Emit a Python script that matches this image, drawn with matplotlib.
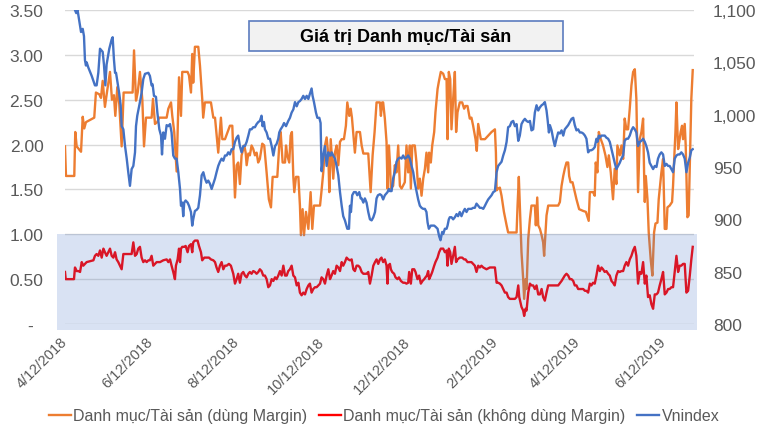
import matplotlib
matplotlib.use('Agg')
import matplotlib.pyplot as plt
import matplotlib.dates as mdates
import matplotlib.transforms as mtransforms
from matplotlib.patches import Rectangle
from matplotlib.lines import Line2D
import numpy as np

plt.rcParams['font.family'] = ['Liberation Sans', 'DejaVu Sans']

# ---------------- data ----------------
start_date = '2018-04-12'   # day 0

# Danh mục/Tài sản (dùng Margin) - left axis
orange_days = [0, 0.7, 6.6, 7.3, 8.3, 11.4, 12.6, 13.7, 14.9, 20.8, 22.0, 24.4, 25.6, 26.8, 28.4, 30.0,
               32.0, 33.4, 34.8, 35.8, 37.2, 38.6, 40.3, 41.7, 48.1, 49.1, 50.5, 51.7, 53.3, 55.0, 56.2,
               57.6, 61.6, 62.6, 64.0, 65.6, 67.0, 72.3, 73.5, 75.4, 76.3, 77.7, 79.4, 81.1, 82.5, 83.4,
               87.2, 88.2, 89.6, 90.5, 91.2, 92.4, 94.8, 96.0, 97.6, 98.3, 99.5, 103.8, 105.5, 106.7,
               109.0, 110.9, 111.9, 113.8, 115.7, 117.3, 119.0, 119.7, 120.9, 122.1, 123.2, 124.4, 125.6,
               127.5, 128.5, 129.2, 130.4, 131.5, 132.7, 133.9, 135.1, 136.3, 137.4, 138.6, 140.3, 141.7,
               143.4, 145.0, 146.5, 147.7, 151.0, 152.4, 153.4, 154.8, 156.5, 157.2, 158.1, 159.5, 160.5,
               161.4, 162.4, 163.1, 164.3, 166.0, 167.1, 167.8, 169.0, 170.0, 171.4, 173.1, 174.7, 175.9,
               177.1, 181.4, 182.5, 183.7, 184.9, 186.1, 187.3, 188.0, 189.0, 190.8, 192.0, 193.2, 194.4,
               195.6, 196.8, 198.4, 199.8, 200.8, 202.2, 203.2, 204.1, 206.2, 207.4, 209.8, 211.0, 212.2,
               215.7, 217.4, 218.8, 220.2, 221.6, 224.0, 224.7, 225.6, 226.3, 227.5, 228.7, 229.4, 230.4,
               231.1, 231.8, 233.4, 234.6, 235.8, 237.0, 238.2, 239.4, 241.7, 242.9, 244.1, 245.3, 246.0,
               247.0, 248.8, 250.0, 251.2, 252.4, 253.6, 254.8, 256.0, 257.1, 258.3, 259.0, 260.2, 261.2,
               262.6, 263.5, 265.0, 265.9, 267.3, 269.0, 270.2, 271.4, 272.1, 273.0, 274.0, 274.9, 276.1,
               277.3, 278.2, 279.2, 280.8, 282.5, 283.9, 284.9, 286.3, 287.9, 289.1, 290.3, 292.0, 292.9,
               293.9, 295.8, 298.7, 301.0, 303.4, 305.8, 306.5, 307.0, 308.1, 309.3, 310.5, 312.2, 314.1,
               315.2, 321.2, 321.9, 322.8, 323.5, 324.7, 325.9, 326.6, 327.6, 328.3, 329.5, 330.7, 331.8,
               334.2, 334.9, 335.9, 336.6, 337.8, 339.0, 340.1, 340.8, 341.8, 342.5, 343.7, 350.8, 352.0,
               353.2, 354.4, 355.5, 356.7, 357.9, 358.6, 359.6, 361.0, 362.6, 363.8, 365.7, 368.6, 370.5,
               372.5, 373.3, 375.6, 376.8, 377.5, 378.7, 379.7, 381.1, 382.7, 384.4, 385.8, 386.8, 388.2,
               389.8, 391.0, 392.2, 392.9, 394.6, 395.8, 397.0, 398.1, 399.3, 400.5, 401.7, 402.9, 404.1,
               405.3, 406.4, 407.6, 408.8, 410.0, 411.2, 411.9, 412.4, 413.1, 414.3, 415.2, 416.6, 417.8,
               419.0, 420.0, 421.4, 422.3, 424.2, 425.4, 426.6, 427.8, 428.5, 430.1, 431.8, 432.5, 433.2,
               434.2, 434.9, 436.1, 437.2, 437.9, 438.9, 439.6, 440.8, 441.5, 442.7, 443.6, 444.4, 445.5,
               446.5]
orange_vals = [1.98, 1.65, 1.65, 2.14, 1.98, 1.92, 2.31, 2.18, 2.25, 2.30, 2.58, 2.56, 2.52, 2.71, 2.42, 2.60,
               2.81, 2.50, 2.55, 2.32, 2.64, 2.45, 1.98, 2.58, 2.58, 3.05, 2.49, 2.58, 2.81, 2.50, 1.98,
               2.30, 2.30, 2.51, 2.23, 2.25, 2.30, 2.30, 2.40, 2.47, 2.32, 2.14, 1.70, 2.75, 2.32, 2.81,
               2.81, 2.77, 2.58, 3.01, 2.69, 3.09, 3.09, 2.88, 2.51, 2.30, 2.47, 2.47, 2.30, 2.30,
               1.91, 2.30, 2.06, 2.06, 2.14, 2.21, 2.21, 1.91, 1.41, 1.77, 1.80, 1.56, 1.88,
               1.99, 1.91, 1.77, 1.90, 1.88, 1.99, 1.95, 1.88, 1.91, 1.80, 1.84, 2.01, 1.99,
               1.69, 1.39, 1.30, 1.64, 1.64, 1.99, 2.14, 1.80, 1.80, 1.99, 1.88, 1.80, 2.10,
               2.14, 1.64, 1.47, 1.64, 1.64, 1.32, 0.99, 1.28, 0.99, 1.25, 1.06, 1.47, 1.06,
               1.32, 1.32, 1.49, 1.69, 1.99, 2.08, 1.88, 1.47, 2.06, 1.62, 1.91, 1.99, 1.77,
               2.03, 2.06, 2.06, 2.21, 2.47, 2.32, 2.40, 2.30, 1.91, 2.14, 2.14, 1.99, 1.90,
               1.90, 1.47, 1.88, 2.14, 2.47, 2.47, 2.32, 2.47, 2.47, 2.29, 2.03, 1.51, 1.99,
               1.80, 1.51, 1.54, 1.77, 1.69, 1.99, 1.54, 1.51, 1.58, 1.99, 1.69, 1.99, 1.51,
               1.99, 1.99, 1.80, 1.51, 1.62, 1.43, 1.62, 1.73, 1.91, 1.69, 1.91, 1.80, 1.99,
               2.14, 2.36, 2.62, 2.70, 2.81, 2.79, 2.73, 2.73, 2.06, 2.81, 2.73, 2.17, 2.51,
               2.81, 2.14, 2.36, 2.47, 2.47, 2.40, 2.43, 2.43, 2.29, 2.30, 2.21, 2.06, 1.93,
               2.23, 2.06, 2.06, 2.10, 2.14, 2.17, 1.91, 1.49, 1.51, 1.52, 1.43, 1.25, 1.10,
               1.02, 1.02, 1.32, 1.64, 1.32, 0.80, 0.50, 0.28, 0.50, 0.39, 0.95, 1.17, 1.32,
               1.32, 1.10, 1.41, 1.10, 1.06, 0.99, 0.91, 0.76, 1.02, 1.21, 1.32, 1.32, 1.36,
               1.54, 1.65, 1.73, 1.80, 1.80, 1.65, 1.58, 1.58, 1.47, 1.39, 1.28, 1.26, 1.25,
               1.15, 1.47, 1.47, 1.43, 1.80, 1.69, 2.14, 2.06, 1.99, 1.88, 1.75, 1.88, 1.69,
               1.39, 1.73, 1.56, 1.99, 1.88, 1.99, 1.84, 2.29, 2.17, 2.17, 2.40, 2.66, 2.81,
               2.84, 2.51, 1.47, 2.06, 2.14, 2.29, 1.69, 1.36, 1.65, 1.39, 1.02, 0.72, 0.54,
               1.02, 1.12, 1.13, 1.39, 1.69, 1.84, 1.06, 1.06, 1.30, 1.32, 1.36, 1.54, 1.80,
               2.14, 2.47, 1.95, 2.06, 2.14, 2.21, 2.06, 2.23, 1.99, 1.19, 1.21, 1.77, 2.51,
               2.83]

# Danh mục/Tài sản (không dùng Margin) - left axis
red_days = [0, 0.5, 6.4, 7.1, 8.3, 9.5, 10.7, 11.9, 13.0, 14.2, 15.4, 20.2, 21.3, 22.5, 23.7, 24.9, 26.1,
            27.3, 28.4, 29.6, 30.8, 32.0, 33.2, 34.4, 35.6, 36.7, 37.9, 39.1, 40.3, 41.5, 43.9, 47.4, 48.6,
            49.8, 51.0, 52.1, 53.3, 54.5, 55.7, 56.9, 58.1, 59.3, 60.4, 61.6, 62.8, 64.0, 65.2, 67.6, 69.9,
            72.3, 73.5, 74.7, 75.8, 77.0, 78.2, 78.9, 80.1, 81.1, 81.8, 82.5, 83.4, 84.8, 85.8, 87.2, 88.2,
            89.6, 90.5, 91.2, 92.4, 94.3, 95.3, 96.7, 97.6, 99.1, 100.7, 102.4, 103.8, 105.5, 106.7, 107.8,
            109.0, 110.2, 111.4, 112.6, 113.8, 115.0, 116.6, 118.0, 119.7, 120.9, 122.1, 123.2, 124.4,
            125.6, 126.8, 128.0, 129.2, 130.4, 131.5, 132.7, 133.9, 135.1, 136.3, 137.5, 138.6, 139.8,
            141.0, 142.2, 143.4, 144.6, 145.8, 147.0, 148.2, 149.4, 150.5, 151.7, 152.9, 154.1, 155.3,
            156.5, 157.7, 158.8, 160.0, 161.2, 162.4, 163.6, 164.8, 166.0, 167.1, 168.3, 169.5, 170.7,
            171.9, 173.1, 174.2, 175.4, 176.6, 177.8, 179.0, 180.2, 181.4, 182.5, 183.7, 184.9, 186.1,
            187.3, 188.5, 189.6, 190.8, 192.0, 193.2, 194.4, 195.6, 196.8, 197.9, 199.1, 200.3, 201.5,
            202.7, 203.9, 205.1, 206.2, 207.4, 208.6, 209.8, 211.0, 212.2, 214.5, 215.7, 216.9, 218.1,
            219.3, 220.5, 221.6, 222.8, 224.0, 225.1, 226.3, 227.5, 228.7, 229.4, 229.9, 231.1, 231.8,
            232.7, 234.1, 235.1, 236.5, 237.5, 238.9, 240.5, 241.7, 242.9, 244.1, 244.8, 246.0, 247.0,
            248.4, 249.3, 250.7, 251.9, 253.1, 254.3, 255.5, 256.4, 257.4, 258.3, 259.0, 260.2, 261.2,
            262.6, 263.5, 265.0, 266.1, 267.3, 269.0, 270.2, 271.4, 272.1, 273.0, 274.0, 274.9, 276.1,
            277.3, 278.2, 279.2, 280.8, 282.5, 283.9, 284.9, 286.3, 287.9, 289.1, 290.3, 291.5, 292.7,
            293.9, 295.1, 296.2, 297.5, 299.8, 302.2, 304.6, 305.8, 307.0, 308.1, 309.3, 310.5, 311.7,
            312.9, 314.1, 315.2, 316.4, 318.8, 320.0, 321.2, 322.4, 323.1, 324.0, 324.7, 325.9, 326.6,
            327.6, 328.3, 329.5, 330.7, 331.8, 333.0, 334.2, 335.4, 336.6, 337.8, 339.0, 340.1, 341.3,
            342.5, 343.7, 346.1, 348.4, 350.8, 353.2, 355.5, 356.7, 357.9, 359.1, 360.3, 361.5, 362.6,
            363.8, 365.0, 367.4, 368.6, 369.8, 370.9, 372.1, 373.3, 374.4, 375.6, 376.8, 378.0, 379.2,
            380.4, 381.6, 382.7, 383.9, 385.1, 386.3, 387.5, 388.7, 389.8, 391.0, 392.2, 393.4, 394.6,
            395.8, 397.0, 398.1, 399.3, 400.5, 401.7, 402.9, 404.1, 405.3, 406.4, 407.6, 408.8, 410.0,
            411.2, 412.4, 413.5, 414.7, 415.9, 417.1, 418.3, 419.5, 420.7, 421.8, 423.0, 424.2, 425.4,
            426.6, 427.8, 429.0, 430.1, 431.3, 432.5, 433.7, 434.9, 436.1, 437.2, 438.4, 439.6, 440.8,
            442.0, 443.2, 444.4, 445.5, 446.5]
red_vals = [0.58, 0.50, 0.50, 0.63, 0.59, 0.59, 0.58, 0.69, 0.65, 0.67, 0.69, 0.71, 0.76, 0.78, 0.76, 0.82, 0.74,
            0.84, 0.80, 0.76, 0.80, 0.84, 0.76, 0.74, 0.80, 0.72, 0.69, 0.65, 0.61, 0.78, 0.78, 0.78, 0.91,
            0.76, 0.78, 0.84, 0.86, 0.74, 0.69, 0.71, 0.69, 0.71, 0.71, 0.76, 0.65, 0.67, 0.69, 0.69, 0.71,
            0.72, 0.69, 0.72, 0.65, 0.58, 0.50, 0.65, 0.72, 0.84, 0.69, 0.84, 0.86, 0.86, 0.87, 0.80, 0.87,
            0.89, 0.80, 0.91, 0.93, 0.93, 0.87, 0.80, 0.71, 0.74, 0.74, 0.74, 0.72, 0.71, 0.69, 0.63,
            0.58, 0.65, 0.69, 0.61, 0.65, 0.65, 0.67, 0.65, 0.56, 0.45, 0.50, 0.56, 0.46,
            0.56, 0.58, 0.54, 0.52, 0.56, 0.58, 0.56, 0.59, 0.58, 0.56, 0.58, 0.61, 0.59,
            0.54, 0.54, 0.50, 0.41, 0.43, 0.50, 0.48, 0.52, 0.50, 0.54, 0.59, 0.54, 0.65,
            0.54, 0.54, 0.59, 0.61, 0.65, 0.54, 0.52, 0.43, 0.46, 0.35, 0.32, 0.35, 0.33,
            0.39, 0.43, 0.45, 0.35, 0.39, 0.41, 0.41, 0.43, 0.45, 0.52, 0.50, 0.45, 0.54,
            0.61, 0.50, 0.54, 0.59, 0.56, 0.65, 0.63, 0.59, 0.69, 0.65, 0.69, 0.74, 0.72,
            0.71, 0.72, 0.61, 0.59, 0.65, 0.65, 0.63, 0.58, 0.56, 0.56, 0.58, 0.45, 0.54,
            0.65, 0.69, 0.72, 0.67, 0.72, 0.74, 0.69, 0.72, 0.65, 0.45, 0.65, 0.67, 0.61,
            0.58, 0.56, 0.52, 0.50, 0.52, 0.48, 0.46, 0.46, 0.45, 0.46, 0.58, 0.45, 0.61,
            0.61, 0.58, 0.50, 0.54, 0.45, 0.48, 0.50, 0.52, 0.54, 0.59, 0.50, 0.54, 0.58,
            0.65, 0.69, 0.74, 0.80, 0.84, 0.84, 0.80, 0.82, 0.65, 0.84, 0.80, 0.67, 0.76,
            0.86, 0.69, 0.72, 0.74, 0.74, 0.72, 0.72, 0.69, 0.69, 0.69, 0.67, 0.65, 0.58,
            0.65, 0.63, 0.65, 0.63, 0.61, 0.63, 0.63, 0.63, 0.46, 0.46, 0.45, 0.43, 0.39,
            0.35, 0.35, 0.30, 0.28, 0.28, 0.28, 0.30, 0.43, 0.30, 0.24, 0.19, 0.15, 0.09,
            0.17, 0.15, 0.35, 0.45, 0.43, 0.43, 0.39, 0.43, 0.33, 0.33, 0.39, 0.30, 0.26,
            0.35, 0.43, 0.43, 0.43, 0.43, 0.48, 0.54, 0.56, 0.54, 0.50, 0.50, 0.48, 0.43,
            0.43, 0.39, 0.39, 0.39, 0.37, 0.37, 0.35, 0.45, 0.43, 0.46, 0.45, 0.54, 0.65,
            0.59, 0.63, 0.61, 0.58, 0.59, 0.56, 0.54, 0.48, 0.46, 0.43, 0.54, 0.59, 0.58,
            0.59, 0.59, 0.65, 0.69, 0.65, 0.72, 0.76, 0.82, 0.86, 0.76, 0.45, 0.58, 0.56,
            0.69, 0.45, 0.54, 0.30, 0.32, 0.22, 0.17, 0.33, 0.33, 0.35, 0.43, 0.50, 0.58,
            0.33, 0.35, 0.39, 0.39, 0.41, 0.41, 0.58, 0.76, 0.58, 0.65, 0.65, 0.67, 0.67,
            0.35, 0.37, 0.54, 0.72, 0.86]

# Vnindex - right axis
blue_days = [0, 3, 5, 7.1, 8.0, 8.8, 9.5, 10.7, 11.4, 12.1, 12.6, 13.5, 14.2, 14.9, 15.4, 16.6, 19.0, 21.3,
             22.5, 23.7, 24.9, 26.8, 27.7, 28.7, 29.6, 31.5, 33.2, 33.9, 34.8, 35.6, 36.3, 37.2, 38.6, 39.6,
             40.3, 41.5, 42.7, 43.9, 45.0, 46.2, 47.4, 48.6, 49.8, 50.5, 51.4, 53.3, 54.5, 55.7, 56.9, 59.3,
             60.4, 61.6, 62.3, 63.3, 64.7, 65.7, 67.1, 68.3, 69.0, 69.9, 71.1, 72.3, 73.5, 74.7, 75.8, 77.0,
             78.2, 79.4, 80.6, 81.8, 82.5, 83.4, 84.1, 84.8, 85.8, 87.2, 88.2, 89.6, 90.5, 91.2, 92.4, 93.6,
             94.8, 96.0, 97.2, 98.4, 99.5, 100.7, 101.9, 103.1, 104.3, 105.5, 106.7, 107.8, 109.0, 110.2,
             111.4, 112.6, 113.8, 115.0, 116.1, 117.3, 118.5, 119.7, 120.9, 122.1, 123.2, 124.4, 125.6,
             126.8, 128.0, 129.2, 130.4, 131.5, 132.7, 133.9, 135.1, 136.3, 137.5, 138.6, 139.8, 140.5,
             141.5, 142.2, 143.4, 144.6, 145.8, 147.0, 148.2, 149.4, 150.5, 151.7, 152.4, 153.4, 154.8,
             155.8, 157.2, 158.8, 160.0, 161.2, 162.4, 163.6, 164.8, 166.0, 167.1, 168.3, 169.5, 170.7,
             171.9, 173.1, 174.2, 175.4, 176.1, 177.1, 178.5, 179.5, 180.9, 181.8, 182.5, 183.7, 184.9,
             186.1, 187.3, 188.0, 189.0, 189.6, 190.8, 192.0, 193.2, 194.4, 195.6, 196.8, 197.9, 199.1,
             200.8, 202.0, 202.7, 203.4, 204.3, 205.5, 206.9, 207.9, 209.3, 210.3, 211.0, 212.2, 213.3,
             214.5, 215.7, 216.9, 218.1, 219.3, 220.5, 221.6, 222.6, 224.0, 225.1, 226.3, 227.5, 229.4,
             230.4, 231.1, 232.3, 233.4, 234.6, 235.8, 237.0, 238.2, 239.4, 240.5, 241.7, 242.9, 244.1,
             245.3, 246.5, 247.7, 248.8, 250.0, 251.2, 252.4, 253.6, 254.8, 256.0, 257.1, 257.9, 258.8,
             260.2, 261.2, 262.6, 263.5, 265.0, 266.1, 267.1, 268.3, 269.0, 270.2, 271.4, 272.1, 273.0,
             273.7, 274.9, 276.1, 277.3, 278.5, 279.6, 280.8, 282.0, 283.2, 284.4, 285.6, 286.8, 287.9,
             289.1, 290.3, 291.5, 292.7, 293.9, 295.1, 296.3, 297.5, 298.7, 299.8, 301.0, 302.2, 303.4,
             304.6, 305.8, 307.0, 308.1, 309.3, 310.5, 311.7, 312.9, 314.1, 315.2, 316.4, 317.6, 318.8,
             320.0, 321.2, 322.4, 323.5, 324.7, 325.9, 327.1, 328.3, 329.5, 330.7, 331.8, 333.0, 334.2,
             335.4, 336.6, 337.8, 339.0, 340.1, 341.3, 342.5, 343.2, 344.2, 344.9, 346.1, 347.2, 348.4,
             349.6, 350.8, 352.0, 353.2, 354.4, 355.5, 356.7, 357.9, 359.1, 360.3, 361.5, 362.6, 363.8,
             365.0, 366.2, 367.4, 368.6, 369.8, 370.9, 372.1, 373.3, 374.4, 375.6, 376.8, 378.0, 378.7,
             379.7, 380.4, 381.6, 382.7, 383.9, 385.1, 386.3, 387.5, 388.7, 389.8, 391.0, 392.2, 393.4,
             394.6, 395.8, 397.0, 398.1, 399.3, 400.5, 401.7, 402.9, 404.1, 405.3, 406.4, 407.6, 408.8,
             410.0, 411.2, 412.4, 413.5, 414.7, 415.9, 417.1, 418.3, 419.5, 420.7, 421.8, 423.0, 424.2,
             425.4, 426.6, 427.8, 429.0, 430.1, 431.3, 432.5, 433.7, 434.9, 436.1, 437.2, 438.4, 439.6,
             440.8, 442.0, 443.2, 444.4, 445.5, 446.5]
blue_vals = [1160, 1140, 1125, 1100, 1097, 1101, 1095, 1085, 1079, 1080, 1082, 1075, 1052, 1047, 1050, 1045, 1037, 1028,
             1028, 1040, 1063, 1060, 1048, 1028, 1048, 1063, 1072, 1074, 1053, 1040, 1040, 1032, 1020, 1009,
             989, 986, 970, 958, 945, 932, 948, 951, 964, 989, 999, 1012, 1021, 1034, 1039, 1040,
             1037, 1028, 1029, 1018, 1017, 1002, 986, 980, 962, 983, 977, 990, 989, 991, 983, 961,
             958, 958, 945, 929, 913, 916, 903, 916, 918, 916, 913, 907, 894, 900, 908, 909,
             911, 923, 942, 945, 939, 935, 937, 934, 929, 934, 939, 945, 951, 955,
             958, 956, 961, 961, 964, 962, 967, 967, 974, 978, 980, 970, 964,
             970, 970, 974, 980, 986, 986, 988, 988, 991, 993, 994, 999, 989,
             993, 986, 983, 977, 977, 970, 961, 970, 972, 977, 983, 986, 989,
             992, 989, 994, 997, 1002, 1005, 1012, 1008, 1012, 1013, 1015, 1018, 1015,
             1018, 1015, 1020, 1025, 1018, 1012, 1002, 997, 997, 992, 946, 961, 970,
             951, 964, 961, 961, 964, 961, 958, 951, 942, 926, 913, 903, 899,
             891, 891, 913, 907, 923, 926, 926, 923, 926, 920, 920, 916, 920,
             916, 907, 900, 899, 902, 907, 920, 923, 924, 923, 919, 923, 926,
             929, 927, 927, 939, 945, 955, 958, 959, 958, 961, 958, 959, 961,
             958, 951, 945, 935, 927, 919, 913, 911, 910, 910, 907, 897, 891,
             894, 894, 894, 893, 891, 884, 880, 888, 886, 891, 891, 894, 900,
             902, 902, 900, 902, 905, 903, 907, 903, 907, 910, 907, 910, 910,
             910, 911, 911, 915, 913, 911, 911, 910, 913, 916, 919, 921, 923,
             926, 927, 945, 951, 953, 955, 961, 966, 974, 988, 989, 993, 994,
             989, 991, 975, 980, 991, 994, 996, 994, 993, 994, 985, 986, 1002,
             1009, 1004, 1007, 1009, 1010, 1012, 1004, 996, 983, 990, 985, 977, 970,
             977, 983, 982, 985, 980, 986, 988, 990, 993, 996, 997, 990, 985,
             986, 983, 983, 982, 980, 977, 964, 966, 966, 967, 969, 977, 974,
             980, 978, 980, 980, 980, 978, 977, 974, 967, 961, 954, 948, 951,
             954, 958, 961, 975, 977, 977, 980, 985, 988, 986, 983, 970, 974,
             975, 977, 974, 970, 964, 954, 951, 948, 951, 950, 958, 962, 964,
             962, 951, 953, 951, 951, 948, 945, 958, 961, 962, 962, 964, 962,
             958, 945, 954, 959, 966, 967]

left_ticks = [0, 0.5, 1.0, 1.5, 2.0, 2.5, 3.0, 3.5]
left_labels = ['-  ', '0.50', '1.00', '1.50', '2.00', '2.50', '3.00', '3.50']
right_ticks = [800, 850, 900, 950, 1000, 1050, 1100]
right_labels = ['800', '850', '900', '950', '1,000', '1,050', '1,100']
date_ticks = ['2018-04-12', '2018-06-12', '2018-08-12', '2018-10-12', '2018-12-12',
              '2019-02-12', '2019-04-12', '2019-06-12']
date_labels = ['4/12/2018', '6/12/2018', '8/12/2018', '10/12/2018', '12/12/2018',
               '2/12/2019', '4/12/2019', '6/12/2019']
series_names = ['Danh mục/Tài sản (dùng Margin)', 'Danh mục/Tài sản (không dùng Margin)', 'Vnindex']
title_text = 'Giá trị Danh mục/Tài sản'

# ---------------- style ----------------
C_ORANGE = '#ed7d31'
C_RED = '#ff0000'
C_BLUE = '#4472c4'
C_TXT = '#595959'
LW = 1.7

fig = plt.figure(figsize=(7.68, 4.31), dpi=100)
W, H = 768.0, 431.0
ax = fig.add_axes([65 / W, 1 - 325 / H, 629 / W, 314 / H])
ax2 = ax.twinx()

t0 = mdates.datestr2num(start_date)
ox = t0 + np.array(orange_days)
rx = t0 + np.array(red_days)
bx = t0 + np.array(blue_days)

ax.plot(ox, orange_vals, color=C_ORANGE, lw=LW, zorder=2, solid_joinstyle='round')
ax.plot(rx, red_vals, color=C_RED, lw=LW, zorder=2, solid_joinstyle='round')
ax2.plot(bx, blue_vals, color=C_BLUE, lw=LW, zorder=2, solid_joinstyle='round')

ax.set_xlim(t0, t0 + 447.4)
ax.set_ylim(0, 3.5)
ax2.set_ylim(800, 1100)

ax.set_yticks(left_ticks)
ax.set_yticklabels(left_labels)
ax2.set_yticks(right_ticks)
ax2.set_yticklabels(right_labels)

ax.set_axisbelow(True)
ax.grid(axis='y', color='#d9d9d9', lw=1.0)
ax.grid(axis='x', visible=False)

tick_nums = [mdates.datestr2num(d) for d in date_ticks]
ax.set_xticks(tick_nums)
ax.set_xticklabels(date_labels, rotation=45, ha='right', va='center', rotation_mode='anchor')

ax.tick_params(axis='y', length=0, pad=15.5, labelsize=12.5, labelcolor=C_TXT)
ax2.tick_params(axis='y', length=0, pad=13.5, labelsize=12.5, labelcolor=C_TXT)
ax.tick_params(axis='x', length=0, pad=11, labelsize=10.5, labelcolor=C_TXT)

for a in (ax, ax2):
    for s in a.spines.values():
        s.set_visible(False)

# translucent highlight band (0 .. 1.00 on the left axis)
trans = mtransforms.blended_transform_factory(ax.transAxes, ax.transData)
band = Rectangle((-8 / 629, -0.067), 640 / 629, 1.067, transform=trans,
                 facecolor=C_BLUE, alpha=0.2, edgecolor='none', zorder=5, clip_on=False)
ax2.add_patch(band)

# title box
fig.add_artist(Rectangle((249 / W, 1 - 52 / H), 314 / W, 30 / H, transform=fig.transFigure,
                         facecolor='#f2f2f2', edgecolor='#5b7cbf', lw=1.2, zorder=10))
fig.text(406 / W, 1 - 37.5 / H, title_text, ha='center', va='center', fontsize=13,
         fontweight='bold', color='black', zorder=11)

# legend
handles = [Line2D([], [], color=C_ORANGE, lw=LW),
           Line2D([], [], color=C_RED, lw=LW),
           Line2D([], [], color=C_BLUE, lw=LW)]
fig.legend(handles, series_names, loc='center', bbox_to_anchor=(384 / W, 1 - 417 / H), ncol=3,
           frameon=False, fontsize=11.5, handlelength=1.4, handletextpad=0.15,
           columnspacing=0.7, labelcolor=C_TXT, borderpad=0, borderaxespad=0)

fig.savefig('out.png', dpi=100)
